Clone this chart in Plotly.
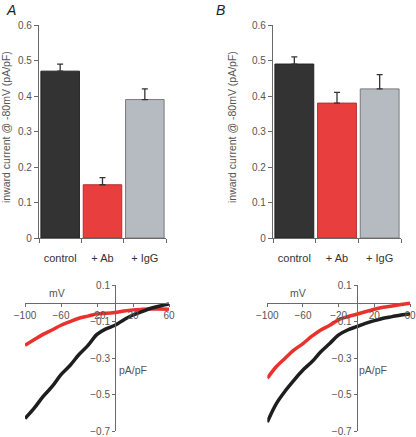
import plotly.graph_objects as go

W, H = 416, 437

# ---- data ----
categories = ["control", "+ Ab", "+ IgG"]
bar_a_vals = [0.47, 0.15, 0.39]
bar_a_err = [0.02, 0.02, 0.03]
bar_b_vals = [0.49, 0.38, 0.42]
bar_b_err = [0.02, 0.03, 0.04]
bar_colors = ["#333333", "#e83e3e", "#b6bac1"]
bar_line_colors = ["#222222", "#b03030", "#7a7a7a"]

voltage = [-100, -90, -80, -70, -60, -50, -40, -30, -20, -10, 0, 10, 20, 30, 40, 50, 60]
iv_a_control = [-0.63, -0.575, -0.51, -0.456, -0.39, -0.34, -0.28, -0.23, -0.17, -0.14,
                -0.12, -0.09, -0.064, -0.046, -0.027, -0.015, -0.004]
iv_a_ab = [-0.23, -0.20, -0.17, -0.146, -0.12, -0.10, -0.082, -0.07, -0.058, -0.055,
           -0.05, -0.042, -0.036, -0.033, -0.031, -0.031, -0.033]
iv_b_control = [-0.65, -0.55, -0.48, -0.42, -0.365, -0.32, -0.265, -0.22, -0.173, -0.146,
                -0.128, -0.11, -0.095, -0.082, -0.073, -0.064, -0.058]
iv_b_ab = [-0.41, -0.347, -0.30, -0.255, -0.22, -0.18, -0.146, -0.12, -0.09, -0.073,
           -0.06, -0.046, -0.033, -0.022, -0.015, -0.007, 0.0]

bar_yticks = [0, 0.1, 0.2, 0.3, 0.4, 0.5, 0.6]
iv_xticks = [-100, -60, -20, 20, 60]
iv_yticks = [0.1, -0.1, -0.3, -0.5, -0.7]

FONT = "Liberation Sans, Arial, Helvetica, sans-serif"
TICKC = "#555555"
AXC = "#6a6a6a"


def px(x):
    return x / W


def py(y):
    return 1 - y / H


fig = go.Figure()

# bars
for name, vals, errs, xa, ya in [("A", bar_a_vals, bar_a_err, "x", "y"),
                                  ("B", bar_b_vals, bar_b_err, "x2", "y2")]:
    fig.add_trace(go.Bar(
        x=categories, y=vals, xaxis=xa, yaxis=ya,
        marker=dict(color=bar_colors, line=dict(color=bar_line_colors, width=1)),
        error_y=dict(type="data", array=errs, arrayminus=[0, 0, 0], symmetric=False,
                     color="#333333", thickness=1.3, width=3),
        showlegend=False, hoverinfo="skip",
    ))

# IV traces
for xa, ya, ctrl, ab in [("x3", "y3", iv_a_control, iv_a_ab),
                         ("x4", "y4", iv_b_control, iv_b_ab)]:
    fig.add_trace(go.Scatter(x=voltage, y=ab, xaxis=xa, yaxis=ya, mode="lines",
                             line=dict(color="#e8322e", width=3.5, shape="spline"),
                             showlegend=False, hoverinfo="skip"))
    fig.add_trace(go.Scatter(x=voltage, y=ctrl, xaxis=xa, yaxis=ya, mode="lines",
                             line=dict(color="#1e1e1e", width=3.5, shape="spline"),
                             showlegend=False, hoverinfo="skip"))

tickfont = dict(family=FONT, size=10, color=TICKC)
catfont = dict(family=FONT, size=11, color="#333333")

bar_x_common = dict(showline=True, linecolor=AXC, linewidth=1.2, ticks="outside",
                    tickson="boundaries", ticklen=4, tickcolor=AXC, tickfont=catfont,
                    ticklabelstandoff=10,
                    showgrid=False, zeroline=False, fixedrange=True, automargin=False)
bar_y_common = dict(range=[0, 0.6], tickvals=bar_yticks, showline=True, linecolor=AXC,
                    linewidth=1.2, ticks="outside", ticklen=4, tickcolor=AXC,
                    tickfont=tickfont, showgrid=False, zeroline=False,
                    tickformat=".1~f", fixedrange=True, automargin=False)

iv_x_common = dict(range=[-100, 60], tickvals=iv_xticks, showline=True, linecolor=AXC,
                   linewidth=1, ticks="outside", ticklen=3, tickcolor=AXC,
                   tickfont=tickfont, showgrid=False, zeroline=False,
                   anchor="free", position=py(303.3), automargin=False)
iv_y_common = dict(range=[-0.7, 0.1], tickvals=iv_yticks, showline=True, linecolor=AXC,
                   linewidth=1, ticks="outside", ticklen=3, tickcolor=AXC,
                   tickfont=tickfont, showgrid=False, zeroline=False, anchor="free",
                   automargin=False)

fig.update_layout(
    width=W, height=H,
    margin=dict(l=0, r=0, t=0, b=0, autoexpand=False),
    paper_bgcolor="white", plot_bgcolor="rgba(0,0,0,0)",
    bargap=0.09,
    font=dict(family=FONT),
    xaxis=dict(domain=[px(39), px(166)], anchor="y", **bar_x_common),
    yaxis=dict(domain=[py(238), py(25)], anchor="x", **bar_y_common),
    xaxis2=dict(domain=[px(273), px(401)], anchor="y2", **bar_x_common),
    yaxis2=dict(domain=[py(238), py(25)], anchor="x2", **bar_y_common),
    xaxis3=dict(domain=[px(25), px(169)], **iv_x_common),
    yaxis3=dict(domain=[py(431.3), py(285)], position=px(115), **iv_y_common),
    xaxis4=dict(domain=[px(267.3), px(410)], **iv_x_common),
    yaxis4=dict(domain=[py(431.3), py(285)], position=px(356.6), **iv_y_common),
)

ann = []
lbl = dict(family=FONT, size=10.5, color=TICKC)
# panel letters
ann.append(dict(x=px(4), y=py(10), text="<i>A</i>", showarrow=False, xanchor="left",
                yanchor="middle", font=dict(family=FONT, size=14, color="#222222")))
ann.append(dict(x=px(214), y=py(10), text="<i>B</i>", showarrow=False, xanchor="left",
                yanchor="middle", font=dict(family=FONT, size=14, color="#222222")))
# y titles
for xc in [6, 232]:
    ann.append(dict(x=px(xc), y=py(127), text="inward current @ -80mV (pA/pF)",
                    textangle=-90, showarrow=False, xanchor="center", yanchor="middle",
                    font=lbl))
# IV labels
for xm, xp in [(57, 133), (298, 373)]:
    ann.append(dict(x=px(xm), y=py(293), text="mV", showarrow=False,
                    xanchor="center", yanchor="middle", font=lbl))
    ann.append(dict(x=px(xp), y=py(370), text="pA/pF", showarrow=False,
                    xanchor="center", yanchor="middle", font=lbl))
for a in ann:
    a["xref"] = "paper"
    a["yref"] = "paper"
fig.update_layout(annotations=ann)

fig.write_html("out.html", config={"displayModeBar": False, "staticPlot": True},
               post_script="document.body.style.margin='0';document.body.style.padding='0';")
